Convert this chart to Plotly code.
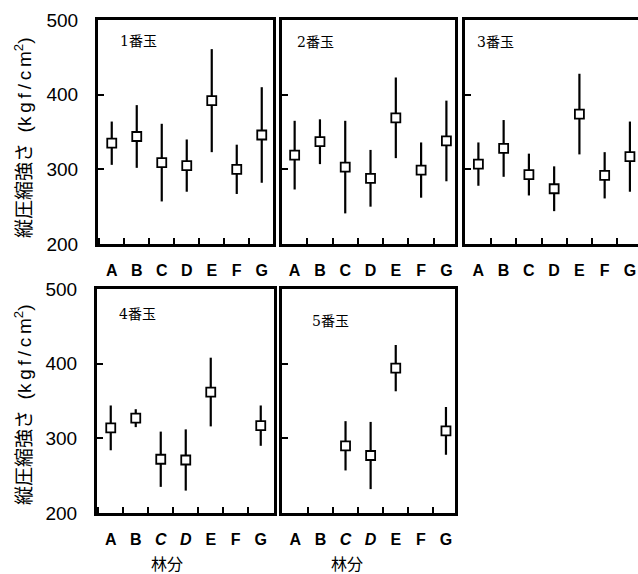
import plotly.graph_objects as go

# 林分 (stands)
CATS = ["A", "B", "C", "D", "E", "F", "G"]
PANEL_NAMES = ["1番玉", "2番玉", "3番玉", "4番玉", "5番玉"]

# mean longitudinal compressive strength (kgf/cm2) and standard deviation
MEAN_1 = [335, 344, 309, 305, 392, 300, 346]
SD_1 = [29, 42, 52, 35, 69, 33, 64]
MEAN_2 = [319, 337, 303, 288, 369, 299, 338]
SD_2 = [46, 30, 62, 38, 54, 37, 54]
MEAN_3 = [307, 328, 293, 274, 374, 292, 317]
SD_3 = [29, 38, 28, 30, 54, 31, 47]
MEAN_4 = [314, 327, 272, 271, 362, None, 317]
SD_4 = [30, 12, 37, 41, 46, None, 27]
MEAN_5 = [None, None, 290, 277, 394, None, 310]
SD_5 = [None, None, 33, 45, 31, None, 32]

Y_TICKS = [200, 300, 400, 500]
Y_TITLE = "縦圧縮強さ  (k\u2009g\u2009f\u2009/\u2009c\u2009m<sup>2</sup>)"
X_TITLE = "林分"

W, H = 638, 574

def px_x(v):
    return v / W

def px_y(v):
    return 1 - v / H

# panel frames in pixels: (left, right, top, bottom), and category range
FRAMES = [
    (98, 273, 20, 244, [-0.55, 6.45]),
    (282, 455, 20, 244, [-0.50, 6.34]),
    (465, 638, 20, 244, [-0.53, 6.32]),
    (97, 274, 289, 513, [-0.55, 6.53]),
    (282, 455, 289, 513, [-0.53, 6.36]),
]
LABEL_POS = [(118, 41), (295, 42), (475, 42), (117, 314), (310, 321)]

series = [(MEAN_1, SD_1), (MEAN_2, SD_2), (MEAN_3, SD_3), (MEAN_4, SD_4), (MEAN_5, SD_5)]

fig = go.Figure()
layout = {}
annotations = []
axis_font = dict(family="Liberation Sans, Arial", size=19, color="black")
cat_font = dict(family="Liberation Sans Narrow, Liberation Sans, Arial", size=16,
                color="black", weight="bold")
cjk = "Noto Sans CJK JP"

for i, ((mean, sd), (l, r, t, b, xr)) in enumerate(zip(series, FRAMES)):
    n = "" if i == 0 else str(i + 1)
    fig.add_trace(go.Scatter(
        x=CATS, y=mean, mode="markers",
        error_y=dict(type="data", array=sd, visible=True, thickness=2.2,
                     width=0, color="black"),
        marker=dict(symbol="square", size=9, color="white",
                    line=dict(color="black", width=1.8)),
        xaxis="x" + n, yaxis="y" + n, showlegend=False,
        hoverinfo="skip",
    ))
    bottom_row = i >= 3
    ticktext = [f"<i>{c}</i>" if bottom_row and c in ("C", "D") else c for c in CATS]
    layout["xaxis" + n] = dict(
        domain=[px_x(l), px_x(r)], anchor="y" + n,
        type="category", categoryorder="array", categoryarray=CATS,
        range=xr, tickmode="array", tickvals=CATS, ticktext=ticktext,
        tickson="boundaries", ticks="inside", ticklen=6, tickwidth=2,
        tickcolor="black", ticklabelstandoff=10, tickfont=cat_font,
        showline=True, linewidth=3, linecolor="black", mirror=True,
        showgrid=False, zeroline=False, fixedrange=True, automargin=False,
    )
    layout["yaxis" + n] = dict(
        domain=[px_y(b), px_y(t)], anchor="x" + n,
        range=[200, 500], tickmode="array", tickvals=Y_TICKS,
        ticks="inside", ticklen=6, tickwidth=2, tickcolor="black",
        showticklabels=(i in (0, 3)), tickfont=axis_font,
        ticklabelstandoff=13,
        showline=True, linewidth=3, linecolor="black", mirror=True,
        showgrid=False, zeroline=False, fixedrange=True, automargin=False,
    )
    lx, ly = LABEL_POS[i]
    annotations.append(dict(
        text=PANEL_NAMES[i], x=px_x(lx), y=px_y(ly), xref="paper", yref="paper",
        xanchor="left", yanchor="middle", showarrow=False,
        font=dict(family="DejaVu Serif, " + cjk, size=14, color="black"),
    ))

# y-axis titles for both rows
for cy in (138, 405):
    annotations.append(dict(
        text=Y_TITLE, x=px_x(23), y=px_y(cy), xref="paper", yref="paper",
        xanchor="center", yanchor="middle", textangle=-90, showarrow=False,
        font=dict(family="Liberation Sans, " + cjk, size=19, color="black"),
    ))

# x-axis titles under the bottom row
for cx in (167, 347):
    annotations.append(dict(
        text=X_TITLE, x=px_x(cx), y=px_y(563), xref="paper", yref="paper",
        xanchor="center", yanchor="middle", showarrow=False,
        font=dict(family=cjk, size=16, color="black"),
    ))

fig.update_layout(
    width=W, height=H,
    margin=dict(l=0, r=0, t=0, b=0, pad=0),
    paper_bgcolor="white", plot_bgcolor="white",
    annotations=annotations,
    **layout,
)

fig.write_html("out.html")
